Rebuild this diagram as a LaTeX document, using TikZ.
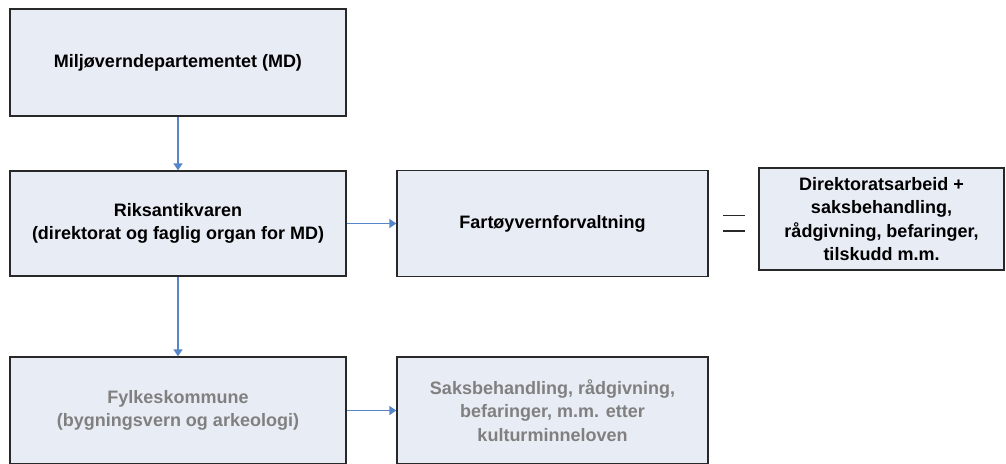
\documentclass[tikz,border=0pt]{standalone}
\usepackage{fontspec}
\setmainfont{Liberation Sans}
\usetikzlibrary{arrows.meta}
\definecolor{boxfill}{RGB}{232,236,245}
\definecolor{boxline}{RGB}{40,40,40}
\definecolor{arrowblue}{RGB}{84,134,200}
\definecolor{greytext}{RGB}{128,128,128}
\tikzset{
  orgbox/.style={draw=boxline, line width=1.3pt, fill=boxfill, align=center, inner sep=0pt,
    font=\fontsize{18}{23.5}\selectfont\bfseries},
  greybox/.style={orgbox, text=greytext},
  link/.style={draw=arrowblue, line width=1.4pt, -{Triangle[length=7pt,width=9pt]}},
  eqline/.style={draw=boxline, line width=1.4pt}
}
\begin{document}
\begin{tikzpicture}[x=1pt,y=-1pt]
\useasboundingbox (0,0) rectangle (1006,463);
\clip (0,0) rectangle (1006,463);
\node[orgbox, minimum width=336pt, minimum height=107pt] (md) at (178,62.5) {Miljøverndepartementet (MD)};
\node[orgbox, minimum width=336pt, minimum height=105pt] (ra) at (178,223.5) {Riksantikvaren\\(direktorat og faglig organ for MD)};
\node[orgbox, minimum width=311pt, minimum height=106pt] (fv) at (552.5,223.5) {Fartøyvernforvaltning};
\node[orgbox, minimum width=245pt, minimum height=102pt] (da) at (881.5,219) {Direktoratsarbeid +\\saksbehandling,\\rådgivning, befaringer,\\tilskudd m.m.};
\node[greybox, minimum width=336pt, minimum height=107pt] (fk) at (178,410.5) {Fylkeskommune\\(bygningsvern og arkeologi)};
\node[greybox, minimum width=311pt, minimum height=107pt] (sb) at (552.5,410.5) {Saksbehandling, rådgivning,\\befaringer, m.m. etter\\kulturminneloven};
\draw[link] (md) -- (ra);
\draw[link] (ra) -- (fv);
\draw[link] (ra) -- (fk);
\draw[link] (fk) -- (sb);
\coordinate (e1a) at (723,215.5);
\coordinate (e1b) at (745,215.5);
\coordinate (e2a) at (723,231);
\coordinate (e2b) at (745,231);
\draw[eqline] (e1a) -- (e1b);
\draw[eqline] (e2a) -- (e2b);
\end{tikzpicture}
\end{document}
